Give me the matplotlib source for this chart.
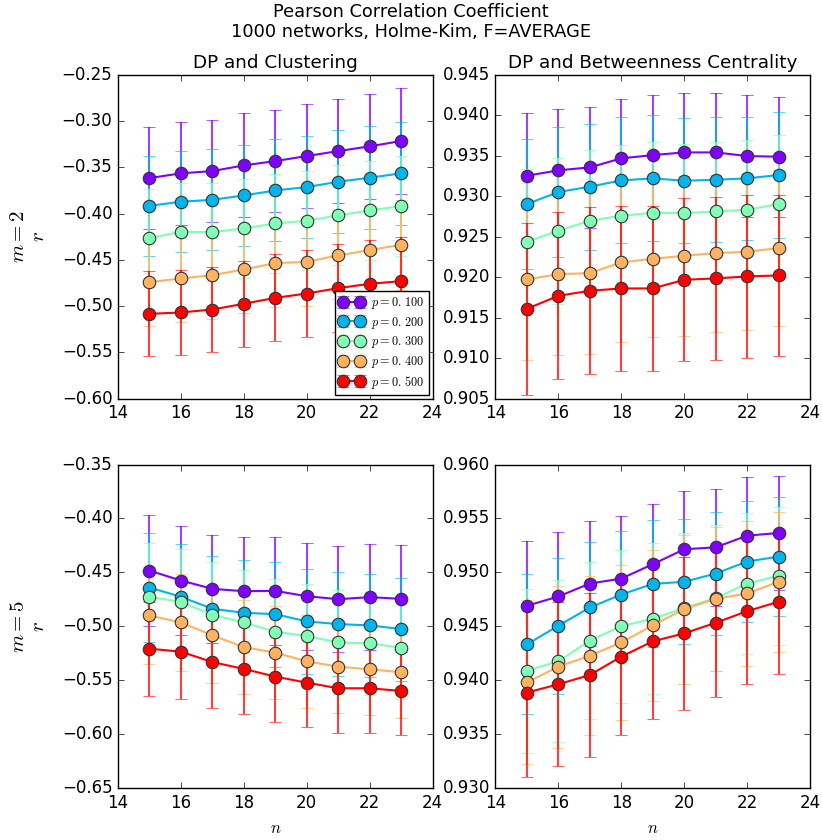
import numpy as np
import matplotlib
matplotlib.use('Agg')
import matplotlib.pyplot as plt
from matplotlib.ticker import FuncFormatter

plt.style.use('classic')

n_values = [15, 16, 17, 18, 19, 20, 21, 22, 23]
p_values = [0.1, 0.2, 0.3, 0.4, 0.5]

# m=2, DP vs clustering
clust_m2 = [
    [-0.3615, -0.3564, -0.3539, -0.3478, -0.3431, -0.3377, -0.3323, -0.3272, -0.3214],
    [-0.3915, -0.3871, -0.3850, -0.3803, -0.3749, -0.3712, -0.3655, -0.3611, -0.3564],
    [-0.4265, -0.4196, -0.4200, -0.4160, -0.4106, -0.4077, -0.4019, -0.3965, -0.3918],
    [-0.4741, -0.4701, -0.4665, -0.4604, -0.4535, -0.4521, -0.4452, -0.4394, -0.4337],
    [-0.5084, -0.5069, -0.5037, -0.4975, -0.4911, -0.4864, -0.4806, -0.4759, -0.4730],
]
clust_m2_err = [
    [0.0550, 0.0556, 0.0552, 0.0563, 0.0556, 0.0567, 0.0563, 0.0570, 0.0570],
    [0.0538, 0.0549, 0.0545, 0.0549, 0.0552, 0.0549, 0.0556, 0.0556, 0.0559],
    [0.0530, 0.0530, 0.0532, 0.0534, 0.0536, 0.0538, 0.0540, 0.0540, 0.0542],
    [0.0470, 0.0470, 0.0470, 0.0476, 0.0480, 0.0476, 0.0476, 0.0480, 0.0490],
    [0.0460, 0.0462, 0.0462, 0.0468, 0.0472, 0.0474, 0.0476, 0.0478, 0.0480],
]

# m=2, DP vs betweenness centrality
betw_m2 = [
    [0.93255, 0.93321, 0.93358, 0.93469, 0.93510, 0.93543, 0.93543, 0.93498, 0.93490],
    [0.92904, 0.93053, 0.93119, 0.93197, 0.93222, 0.93193, 0.93205, 0.93222, 0.93263],
    [0.92438, 0.92574, 0.92698, 0.92760, 0.92797, 0.92793, 0.92813, 0.92834, 0.92904],
    [0.91972, 0.92038, 0.92051, 0.92183, 0.92228, 0.92265, 0.92298, 0.92314, 0.92360],
    [0.91609, 0.91770, 0.91832, 0.91861, 0.91861, 0.91968, 0.91985, 0.92009, 0.92022],
]
betw_m2_err = [
    [0.0077, 0.0076, 0.0075, 0.0074, 0.0074, 0.0073, 0.0074, 0.0075, 0.0074],
    [0.0080, 0.0080, 0.0078, 0.0078, 0.0078, 0.0077, 0.0077, 0.0076, 0.0078],
    [0.0090, 0.0090, 0.0088, 0.0087, 0.0087, 0.0086, 0.0086, 0.0086, 0.0085],
    [0.0100, 0.0100, 0.0100, 0.0099, 0.0097, 0.0099, 0.0097, 0.0097, 0.0096],
    [0.0106, 0.0103, 0.0103, 0.0102, 0.0102, 0.0101, 0.0101, 0.0101, 0.0100],
]

# m=5, DP vs clustering
clust_m5 = [
    [-0.4484, -0.4576, -0.4653, -0.4675, -0.4672, -0.4721, -0.4749, -0.4730, -0.4746],
    [-0.4641, -0.4727, -0.4838, -0.4875, -0.4888, -0.4955, -0.4980, -0.4992, -0.5026],
    [-0.4727, -0.4774, -0.4894, -0.4965, -0.5051, -0.5091, -0.5150, -0.5159, -0.5199],
    [-0.4900, -0.4965, -0.5085, -0.5193, -0.5245, -0.5325, -0.5375, -0.5399, -0.5427],
    [-0.5208, -0.5236, -0.5332, -0.5396, -0.5467, -0.5523, -0.5575, -0.5575, -0.5600],
]
clust_m5_err = [
    [0.0518, 0.0509, 0.0500, 0.0506, 0.0503, 0.0496, 0.0493, 0.0493, 0.0496],
    [0.0503, 0.0493, 0.0490, 0.0487, 0.0487, 0.0484, 0.0484, 0.0481, 0.0478],
    [0.0495, 0.0492, 0.0490, 0.0488, 0.0486, 0.0484, 0.0482, 0.0480, 0.0478],
    [0.0453, 0.0450, 0.0444, 0.0438, 0.0432, 0.0429, 0.0426, 0.0426, 0.0422],
    [0.0435, 0.0435, 0.0422, 0.0422, 0.0422, 0.0413, 0.0413, 0.0413, 0.0413],
]

# m=5, DP vs betweenness centrality
betw_m5 = [
    [0.94690, 0.94776, 0.94896, 0.94942, 0.95075, 0.95214, 0.95232, 0.95340, 0.95365],
    [0.94332, 0.94505, 0.94674, 0.94794, 0.94893, 0.94912, 0.94989, 0.95100, 0.95146],
    [0.94088, 0.94175, 0.94366, 0.94501, 0.94569, 0.94668, 0.94761, 0.94896, 0.94967],
    [0.93980, 0.94125, 0.94227, 0.94350, 0.94508, 0.94659, 0.94754, 0.94804, 0.94912],
    [0.93885, 0.93962, 0.94048, 0.94218, 0.94360, 0.94434, 0.94532, 0.94640, 0.94727],
]
betw_m5_err = [
    [0.0060, 0.0060, 0.0058, 0.0058, 0.0056, 0.0054, 0.0054, 0.0054, 0.0053],
    [0.0065, 0.0063, 0.0061, 0.0059, 0.0059, 0.0058, 0.0057, 0.0056, 0.0055],
    [0.0076, 0.0075, 0.0073, 0.0071, 0.0070, 0.0070, 0.0068, 0.0065, 0.0064],
    [0.0076, 0.0075, 0.0074, 0.0072, 0.0070, 0.0069, 0.0067, 0.0067, 0.0065],
    [0.0078, 0.0076, 0.0076, 0.0073, 0.0072, 0.0071, 0.0069, 0.0068, 0.0067],
]

colors = plt.cm.rainbow(np.linspace(0, 1, len(p_values)))


def tick_fmt(decimals):
    return FuncFormatter(lambda v, pos: ('%.*f' % (decimals, v)).replace('-', '\u2212'))


fig, axes = plt.subplots(2, 2, figsize=(8.22, 8.4), dpi=100)
fig.subplots_adjust(left=0.1436, right=0.9854, top=0.9107, bottom=0.0619,
                    wspace=0.2, hspace=0.204)

panels = [
    (axes[0, 0], clust_m2, clust_m2_err, (-0.60, -0.25), 2),
    (axes[0, 1], betw_m2, betw_m2_err, (0.905, 0.945), 3),
    (axes[1, 0], clust_m5, clust_m5_err, (-0.65, -0.35), 2),
    (axes[1, 1], betw_m5, betw_m5_err, (0.930, 0.960), 3),
]

for ax, vals, errs, ylim, dec in panels:
    for i, p in enumerate(p_values):
        label = '$p=%s$' % ('%.3f' % p).replace('.', '.\\,')
        line, caps, bars = ax.errorbar(n_values, vals[i], yerr=errs[i],
                                       color=colors[i], marker='o', markersize=9,
                                       markeredgecolor='#333333', markeredgewidth=0.8,
                                       linewidth=1.5, elinewidth=1.5, capsize=4,
                                       label=label)
        for c in caps:
            c.set_alpha(0.6)
        for b in bars:
            b.set_alpha(0.75)
    ax.set_xlim(14, 24)
    ax.set_ylim(*ylim)
    ax.yaxis.set_major_formatter(tick_fmt(dec))

axes[0, 0].set_title('DP and Clustering', fontsize=13.2)
axes[0, 1].set_title('DP and Betweenness Centrality', fontsize=13.2)
axes[0, 0].set_ylabel('$m=2$\n$r$', fontsize=15, labelpad=10, linespacing=1.0)
axes[1, 0].set_ylabel('$m=5$\n$r$', fontsize=15, labelpad=10, linespacing=1.0)
axes[1, 0].set_xlabel('$n$', fontsize=12)
axes[1, 1].set_xlabel('$n$', fontsize=12)

axes[0, 0].legend(loc='lower right', fontsize=8.8, numpoints=2,
                  handlelength=2.0, borderpad=0.35, labelspacing=0.3,
                  borderaxespad=0.3, handletextpad=0.6)

fig.suptitle('Pearson Correlation Coefficient\n1000 networks, Holme-Kim, F=AVERAGE',
             fontsize=12.8, y=0.997)

fig.savefig('out.png', dpi=100)
